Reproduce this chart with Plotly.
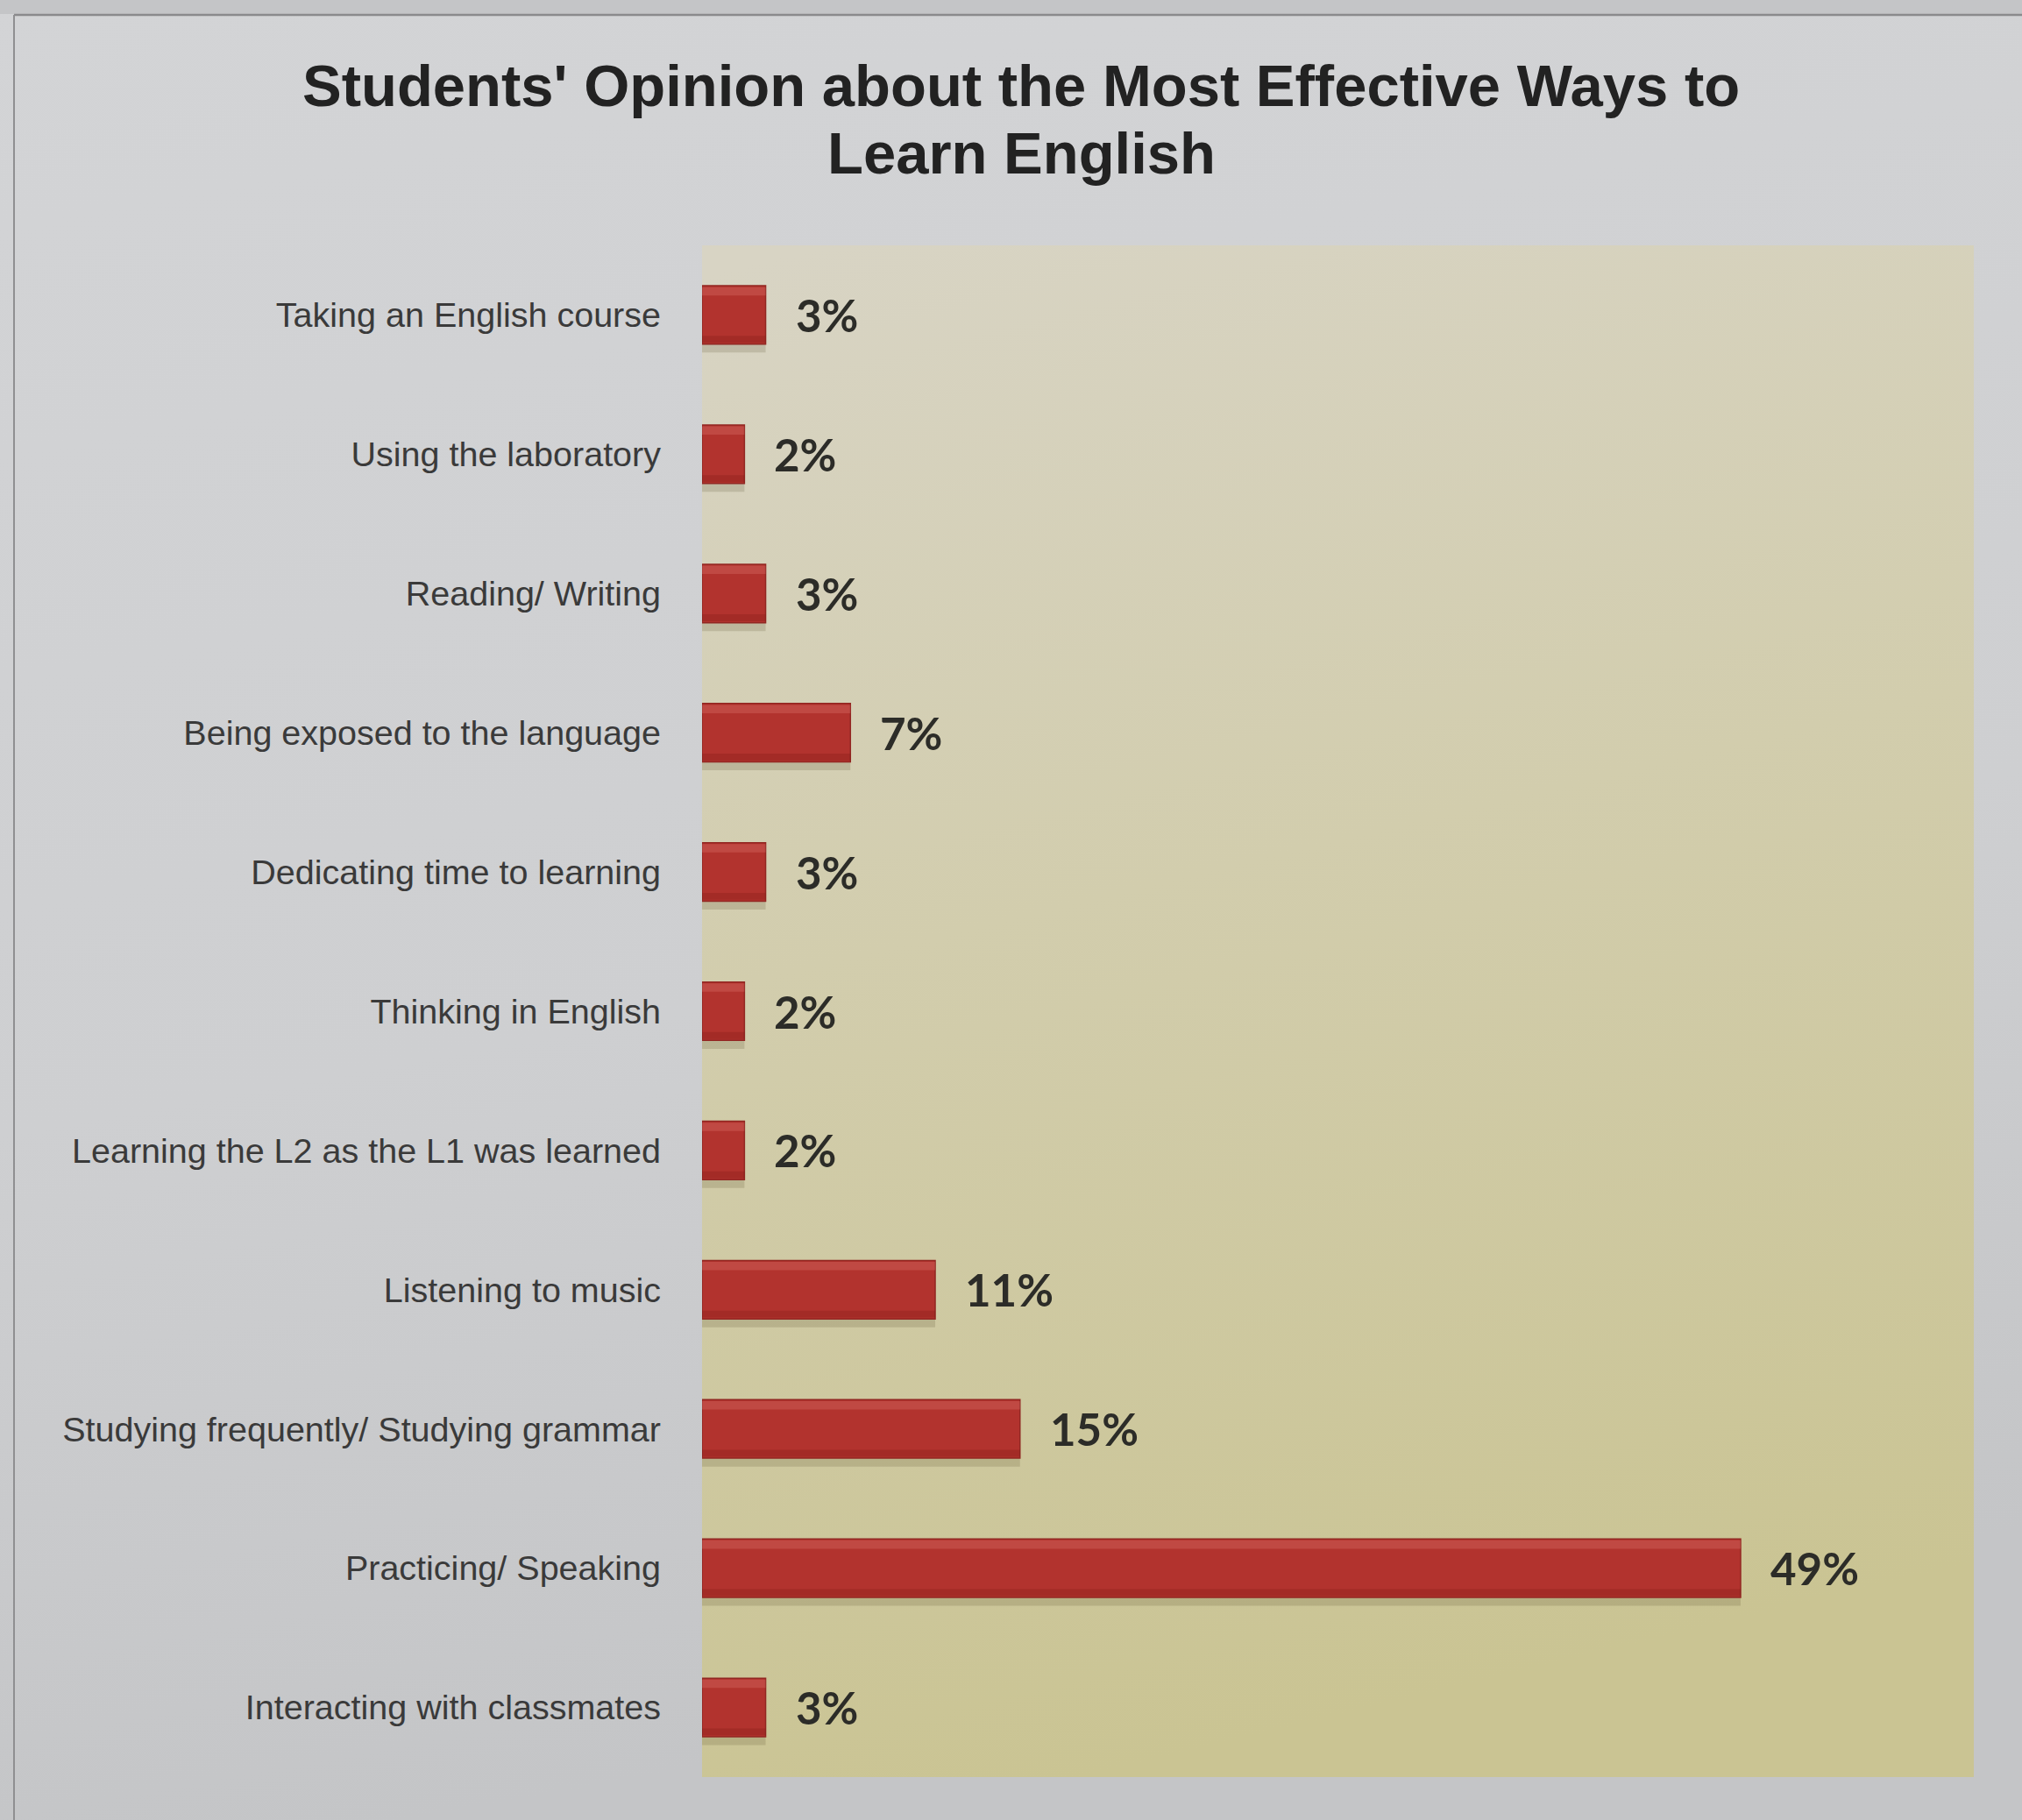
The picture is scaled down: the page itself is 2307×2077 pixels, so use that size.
import base64
import plotly.graph_objects as go

# Survey answers, listed top to bottom as they appear on the chart
categories = [
    "Taking an English course",
    "Using the laboratory",
    "Reading/ Writing",
    "Being exposed to the language",
    "Dedicating time to learning",
    "Thinking in English",
    "Learning the L2 as the L1 was learned",
    "Listening to music",
    "Studying frequently/ Studying grammar",
    "Practicing/ Speaking",
    "Interacting with classmates",
]
percentages = [3, 2, 3, 7, 3, 2, 2, 11, 15, 49, 3]

title_lines = ["Students' Opinion about the Most Effective Ways to", "Learn English"]

W, H = 2307, 2077
M_L, M_R, M_T, M_B = 801, 55, 280, 49
PW, PH = W - M_L - M_R, H - M_T - M_B


def px(x):
    return (x - M_L) / PW


def py(y):
    return (H - M_B - y) / PH


def svg_uri(svg):
    return "data:image/svg+xml;base64," + base64.b64encode(svg.encode()).decode()


page_svg = (
    '<svg xmlns="http://www.w3.org/2000/svg" width="200" height="200" viewBox="0 0 200 200" '
    'preserveAspectRatio="none"><defs><linearGradient id="p" x1="0" y1="0" x2="0.2" y2="1">'
    '<stop offset="0" stop-color="#d3d4d6"/><stop offset="0.6" stop-color="#cecfd1"/>'
    '<stop offset="1" stop-color="#c4c5c7"/></linearGradient></defs>'
    '<rect width="200" height="200" fill="url(#p)"/></svg>'
)
plot_svg = (
    '<svg xmlns="http://www.w3.org/2000/svg" width="200" height="200" viewBox="0 0 200 200" '
    'preserveAspectRatio="none"><defs><linearGradient id="g" x1="0.1" y1="0" x2="0.3" y2="1">'
    '<stop offset="0" stop-color="#d8d4c4"/><stop offset="0.45" stop-color="#d2cdad"/>'
    '<stop offset="1" stop-color="#cac493"/></linearGradient></defs>'
    '<rect width="200" height="200" fill="url(#g)"/></svg>'
)

fig = go.Figure()

# soft drop shadow under each bar
fig.add_trace(go.Bar(
    x=percentages, y=categories, orientation="h",
    width=0.45, offset=-0.18,
    marker=dict(color="rgba(85,70,40,0.18)", line=dict(width=0)),
    hoverinfo="skip", showlegend=False,
))
# main bar body
fig.add_trace(go.Bar(
    x=percentages, y=categories, orientation="h",
    width=0.42, offset=-0.21,
    marker=dict(color="#b2332e", line=dict(color="#922722", width=1.5)),
    hoverinfo="skip", showlegend=False,
))
# glossy top highlight
fig.add_trace(go.Bar(
    x=percentages, y=categories, orientation="h",
    width=0.06, offset=-0.2,
    marker=dict(color="rgba(225,125,115,0.30)", line=dict(width=0)),
    hoverinfo="skip", showlegend=False,
))
# darker lower edge
fig.add_trace(go.Bar(
    x=percentages, y=categories, orientation="h",
    width=0.05, offset=0.15,
    marker=dict(color="rgba(110,20,15,0.22)", line=dict(width=0)),
    hoverinfo="skip", showlegend=False,
))

annotations = []
for cat, val in zip(categories, percentages):
    annotations.append(dict(
        x=val, y=cat, xref="x", yref="y", text=f"{val}%",
        xanchor="left", yanchor="middle", xshift=32, showarrow=False,
        font=dict(family="Lato", size=51, color="#2c2c28", weight="bold"),
    ))

title_centers = [97.5, 174.5]
for line, yc in zip(title_lines, title_centers):
    annotations.append(dict(
        x=px(1165), y=py(yc), xref="paper", yref="paper", text=f"<b>{line}</b>",
        xanchor="center", yanchor="middle", showarrow=False,
        font=dict(family="Liberation Sans", size=67, color="#222222"),
    ))

fig.update_layout(
    width=W, height=H,
    margin=dict(l=M_L, r=M_R, t=M_T, b=M_B, pad=0),
    paper_bgcolor="#cecfd1",
    plot_bgcolor="#d2cdae",
    barmode="overlay",
    showlegend=False,
    annotations=annotations,
    images=[
        dict(source=svg_uri(page_svg), xref="paper", yref="paper",
             x=px(0), y=py(0), sizex=px(W) - px(0), sizey=py(0) - py(H),
             xanchor="left", yanchor="top", sizing="stretch", layer="below"),
        dict(source=svg_uri(plot_svg), xref="paper", yref="paper",
             x=0, y=1, sizex=1, sizey=1,
             xanchor="left", yanchor="top", sizing="stretch", layer="below"),
    ],
    shapes=[
        # slightly darker strip above the page frame
        dict(type="rect", xref="paper", yref="paper", x0=px(0), x1=px(W), y0=py(0), y1=py(16),
             fillcolor="#c4c5c7", line=dict(width=0), layer="above"),
        # page frame: top and left edges
        dict(type="line", xref="paper", yref="paper", x0=px(16), x1=px(W), y0=py(17), y1=py(17),
             line=dict(color="#8a8a8c", width=2.5), layer="above"),
        dict(type="line", xref="paper", yref="paper", x0=px(16), x1=px(16), y0=py(17), y1=py(H),
             line=dict(color="#8f8f91", width=2), layer="above"),
    ],
    xaxis=dict(range=[0, 60], visible=False, showgrid=False, zeroline=False, fixedrange=True),
    yaxis=dict(
        type="category", categoryorder="array", categoryarray=categories,
        range=[len(categories) - 0.5, -0.5],
        showgrid=False, zeroline=False, showline=False, ticks="",
        ticklabelstandoff=46,
        tickfont=dict(family="Liberation Sans", size=39.5, color="#3a3a3a"),
        fixedrange=True,
    ),
)

fig.write_html("out.html")
